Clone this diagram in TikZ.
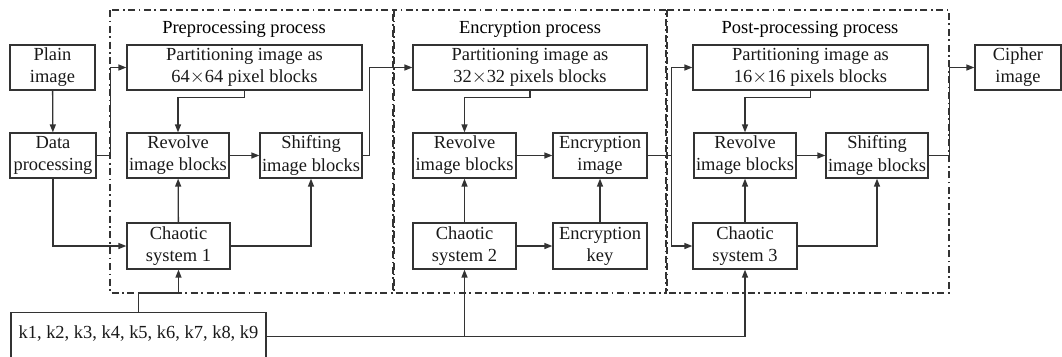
\documentclass[tikz,border=0pt]{standalone}
\usepackage{fontspec}
\setmainfont{Liberation Serif}
\usepackage{tikz}
\usetikzlibrary{arrows.meta,positioning,calc}
\definecolor{linegray}{HTML}{333333}
\tikzstyle{arrow} = [line width=0.75pt, draw=linegray, -{Triangle[length=4.5pt,width=3.4pt]}]
\tikzstyle{wire} = [line width=0.75pt, draw=linegray]
\tikzstyle{blockbox} = [draw=linegray, line width=0.75pt, align=center, inner sep=0pt, minimum height=0.9cm, text=black!90]
\tikzstyle{stagebox} = [draw=linegray, line width=0.7pt, dash pattern=on 4pt off 2pt on 1pt off 2pt]

\begin{document}
\begin{tikzpicture}[x=0.02cm, y=-0.02cm, font=\fontsize{10.5}{12.6}\selectfont]
    \useasboundingbox (0,0) rectangle (1062,356);

    % stages
    \draw[stagebox] (110,10) rectangle (393,293);
    \draw[stagebox] (394,10) rectangle (666,293);
    \draw[stagebox] (667,10) rectangle (949,293);
    \node (t1) at (244,29) {Preprocessing process};
    \node (t2) at (530,29) {Encryption process};
    \node (t3) at (810,29) {Post-processing process};

    % blocks
    \node[blockbox, minimum width=1.7cm] (plain) at (52.5,67.5) {Plain\\image};
    \node[blockbox, minimum width=1.72cm] (data) at (53,155.5) {Data\\processing};
    \node[blockbox, minimum width=5.1cm, minimum height=0.96cm, text depth=0.18cm, anchor=north] (keys) at (138.5,312) {k1, k2, k3, k4, k5, k6, k7, k8, k9};

    \node[blockbox, minimum width=4.7cm] (part1) at (244.5,67.5) {Partitioning image as\\64$\times$64 pixel blocks};
    \node[blockbox, minimum width=2.04cm] (rev1) at (178,155.5) {Revolve\\image blocks};
    \node[blockbox, minimum width=2.04cm] (shift1) at (311,155.5) {Shifting\\image blocks};
    \node[blockbox, minimum width=2.06cm, minimum height=0.92cm] (chaos1) at (178.5,246) {Chaotic\\system 1};

    \node[blockbox, minimum width=4.68cm] (part2) at (530,67.5) {Partitioning image as\\32$\times$32 pixels blocks};
    \node[blockbox, minimum width=2.06cm] (rev2) at (464.5,155.5) {Revolve\\image blocks};
    \node[blockbox, minimum width=1.88cm] (encimg) at (600,155.5) {Encryption\\image};
    \node[blockbox, minimum width=2.06cm, minimum height=0.92cm] (chaos2) at (464.5,246) {Chaotic\\system 2};
    \node[blockbox, minimum width=1.88cm, minimum height=0.92cm] (enckey) at (600,246) {Encryption\\key};

    \node[blockbox, minimum width=4.7cm] (part3) at (810.5,67.5) {Partitioning image as\\16$\times$16 pixels blocks};
    \node[blockbox, minimum width=2.04cm] (rev3) at (745,155.5) {Revolve\\image blocks};
    \node[blockbox, minimum width=2.04cm] (shift3) at (877,155.5) {Shifting\\image blocks};
    \node[blockbox, minimum width=2.08cm, minimum height=0.92cm] (chaos3) at (745,246) {Chaotic\\system 3};

    \node[blockbox, minimum width=1.72cm] (cipher) at (1018,67.5) {Cipher\\image};

    % preprocessing
    \draw[arrow] (plain) -- (data);
    \draw[arrow] (data.east) -- ++(14,0) |- (part1.west);
    \draw[arrow] (data.south) |- (chaos1.west);
    \draw[arrow] (part1.south) -- ++(0,7) -| (rev1.north);
    \draw[arrow] (rev1) -- (shift1);
    \draw[arrow] (chaos1) -- (rev1);
    \draw[arrow] (chaos1.east) -| (shift1.south);
    \draw[arrow] (shift1.east) -- ++(7,0) |- (part2.west);

    % encryption
    \draw[arrow] (part2.south) -- ++(0,7) -| (rev2.north);
    \draw[arrow] (rev2) -- (encimg);
    \draw[arrow] (chaos2) -- (rev2);
    \draw[arrow] (chaos2) -- (enckey);
    \draw[arrow] (enckey) -- (encimg);
    \draw[wire] (encimg.east) -- ++(24,0) coordinate (split);
    \draw[arrow] (split) |- (part3.west);
    \draw[arrow] (split) |- (chaos3.west);

    % post-processing
    \draw[arrow] (part3.south) -- ++(0,7) -| (rev3.north);
    \draw[arrow] (rev3) -- (shift3);
    \draw[arrow] (chaos3) -- (rev3);
    \draw[arrow] (chaos3.east) -| (shift3.south);
    \draw[arrow] (shift3.east) -- ++(21,0) |- (cipher.west);

    % keys
    \draw[arrow] (keys.north) -- ++(0,-19) -| (chaos1.south);
    \draw[arrow] (keys.east) -| (chaos2.south);
    \draw[arrow] (keys.east) -| (chaos3.south);
\end{tikzpicture}
\end{document}
